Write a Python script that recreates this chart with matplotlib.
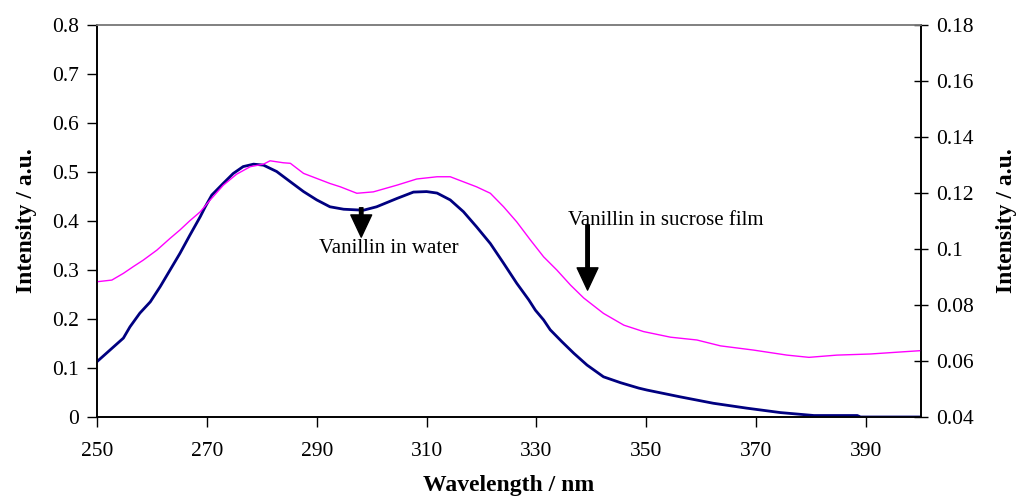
import matplotlib.pyplot as plt
from matplotlib.ticker import FuncFormatter

# vanillin in water (left axis)
water_nm = [250.0, 252.4, 254.8, 256.0, 257.8, 259.7, 261.5, 263.3, 265.1, 266.9,
            268.8, 269.7, 270.9, 273.0, 274.8, 276.6, 278.5, 280.3, 282.7, 285.2,
            287.6, 290.0, 292.4, 294.9, 298.5, 300.9, 304.6, 307.6, 310.0, 311.9,
            314.3, 316.7, 319.1, 321.6, 324.0, 326.4, 328.6, 329.8, 331.3, 332.5,
            334.6, 336.8, 339.2, 342.2, 345.3, 348.6, 350.1, 356.2, 362.2, 368.3,
            374.4, 380.5, 388.4, 389.0, 400.0]
water_int = [0.113, 0.137, 0.161, 0.184, 0.212, 0.235, 0.266, 0.300, 0.334, 0.371,
             0.409, 0.429, 0.453, 0.477, 0.497, 0.511, 0.516, 0.514, 0.501, 0.480,
             0.460, 0.443, 0.429, 0.424, 0.422, 0.429, 0.446, 0.459, 0.460, 0.457,
             0.443, 0.419, 0.388, 0.354, 0.314, 0.273, 0.239, 0.218, 0.198, 0.178,
             0.154, 0.130, 0.106, 0.082, 0.070, 0.059, 0.055, 0.041, 0.028, 0.018,
             0.009, 0.003, 0.003, 0.000, 0.000]

# vanillin in sucrose film (right axis)
film_nm = [250.0, 252.7, 254.8, 256.6, 258.4, 260.9, 263.3, 265.1, 266.9, 268.8,
           270.6, 273.0, 275.4, 277.9, 280.3, 281.5, 283.9, 285.2, 287.6, 290.0,
           292.4, 294.3, 297.3, 300.3, 304.6, 308.2, 311.9, 314.3, 316.7, 319.1,
           321.6, 324.0, 326.4, 328.9, 331.3, 333.7, 336.2, 338.6, 342.2, 345.9,
           349.5, 354.4, 359.2, 363.5, 369.5, 375.6, 379.6, 384.7, 390.8, 396.9,
           400.0]
film_int = [0.0883, 0.0889, 0.0913, 0.0937, 0.0960, 0.0996, 0.1038, 0.1068, 0.1101, 0.1133,
            0.1175, 0.1228, 0.1267, 0.1294, 0.1303, 0.1315, 0.1308, 0.1306, 0.1270, 0.1252,
            0.1234, 0.1222, 0.1199, 0.1204, 0.1228, 0.1250, 0.1258, 0.1258, 0.1240, 0.1222,
            0.1199, 0.1151, 0.1097, 0.1032, 0.0972, 0.0925, 0.0871, 0.0825, 0.0770, 0.0728,
            0.0705, 0.0685, 0.0675, 0.0654, 0.0639, 0.0621, 0.0613, 0.0621, 0.0625, 0.0633,
            0.0637]

x_ticks = [250, 270, 290, 310, 330, 350, 370, 390]
left_ticks = [0, 0.1, 0.2, 0.3, 0.4, 0.5, 0.6, 0.7, 0.8]
right_ticks = [0.04, 0.06, 0.08, 0.1, 0.12, 0.14, 0.16, 0.18]

plt.rcParams['font.family'] = ['Liberation Serif', 'DejaVu Serif']
fmt = FuncFormatter(lambda v, pos: '%g' % round(v, 4))

fig = plt.figure(figsize=(10.17, 4.96), dpi=100)
ax = fig.add_axes([0.0954, 0.1593, 0.8102, 0.7903])
ax2 = ax.twinx()

ax.plot(water_nm, water_int, color='#000080', lw=2.0, zorder=3)
ax2.plot(film_nm, film_int, color='#FF00FF', lw=1.0, zorder=2)

ax.set_xlim(250, 400)
ax.set_ylim(0, 0.8)
ax2.set_ylim(0.04, 0.18)
ax.set_xticks(x_ticks)
ax.set_yticks(left_ticks)
ax2.set_yticks(right_ticks)
ax.yaxis.set_major_formatter(fmt)
ax2.yaxis.set_major_formatter(fmt)

ax.tick_params(axis='both', direction='out', length=7, width=1, labelsize=15.5, pad=6)
ax.tick_params(axis='x', pad=11)
ax2.tick_params(axis='y', direction='inout', length=10, width=1, labelsize=15.5, pad=6)

for a in (ax, ax2):
    for s in ('left', 'bottom', 'right'):
        a.spines[s].set_color('black')
        a.spines[s].set_linewidth(1.2)
    a.spines['top'].set_color('#808080')
    a.spines['top'].set_linewidth(1.2)

ax.set_xlabel('Wavelength / nm', fontsize=17, fontweight='bold', labelpad=10)
ax.set_ylabel('Intensity / a.u.', fontsize=17, fontweight='bold', labelpad=11)
ax2.set_ylabel('Intensity / a.u.', fontsize=17, fontweight='bold', labelpad=16,
               rotation=90)

# labelled arrows
arrow = dict(width=2.5, headwidth=15, headlength=16, color='black')
ax.annotate('', xy=(298.1, 0.367), xytext=(298.1, 0.427), arrowprops=arrow)
ax.annotate('', xy=(339.3, 0.259), xytext=(339.3, 0.392), arrowprops=arrow)
ax.text(290.4, 0.343, 'Vanillin in water', fontsize=15, va='center', ha='left')
ax.text(335.8, 0.40, 'Vanillin in sucrose film', fontsize=15, va='center', ha='left')

fig.savefig('out.png', dpi=100)
